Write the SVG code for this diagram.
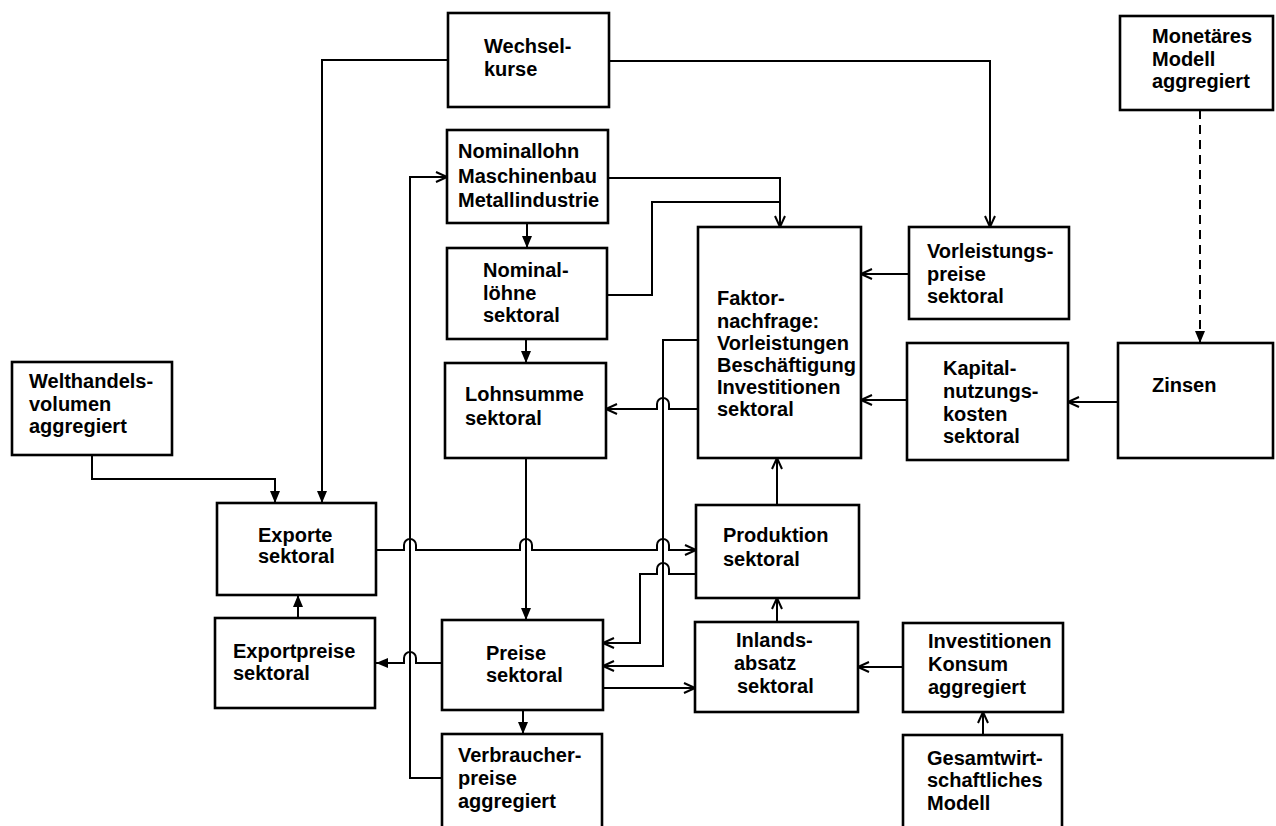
<svg xmlns="http://www.w3.org/2000/svg" width="1276" height="826" viewBox="0 0 1276 826">
<style>
.box{fill:#fff;stroke:#000;stroke-width:2.6}
.t{font-family:"Liberation Sans",Arial,sans-serif;font-size:20px;font-weight:bold;fill:#000}
.c{fill:none;stroke:#000;stroke-width:2}
.o{marker-end:url(#open)}
.f{marker-end:url(#fill)}
</style>
<defs>
<marker id="open" markerUnits="userSpaceOnUse" markerWidth="14" markerHeight="12" refX="12" refY="6" orient="auto">
<path d="M1,1 L12,6 L1,11" fill="none" stroke="#000" stroke-width="2"/>
</marker>
<marker id="fill" markerUnits="userSpaceOnUse" markerWidth="14" markerHeight="12" refX="12" refY="6" orient="auto">
<path d="M0,1 L12,6 L0,11 Z" fill="#000"/>
</marker>
</defs>
<rect width="1276" height="826" fill="#fff"/>
<g id="connectors">
<path class="c f" d="M448 60 H322 V503"/>
<path class="c o" d="M609 61 H990 V227"/>
<path class="c o" d="M608 178 H780 V227"/>
<path class="c" d="M607 295 H652 V202 H780"/>
<path class="c f" d="M527 223 V248"/>
<path class="c f" d="M526 339 V363"/>
<path class="c o" d="M909 274 H861"/>
<path class="c o" d="M907 400 H861"/>
<path class="c o" d="M1118 402 H1068"/>
<path class="c f" d="M1200 110 V343" stroke-dasharray="9,6"/>
<path class="c o" d="M698 409 H669 v-5 a6 6 0 0 0 -12 0 v5 H606"/>
<path class="c f" d="M526 458 V620"/>
<path class="c f" d="M523 710 V734"/>
<path class="c o" d="M442 778 H410 V177 H447"/>
<path class="c o" d="M376 550 H404 v-5 a6 6 0 0 1 12 0 v5 H520 v-5 a6 6 0 0 1 12 0 v5 H657 v-5 a6 6 0 0 1 12 0 v5 H696"/>
<path class="c o" d="M696 574 H669 v-5 a6 6 0 0 0 -12 0 v5 H640 V643 H603"/>
<path class="c o" d="M698 340 H663 V666 H603"/>
<path class="c o" d="M603 688 H695"/>
<path class="c f" d="M442 663 H416 v-5 a6 6 0 0 0 -12 0 v5 H376"/>
<path class="c f" d="M298 618 V595"/>
<path class="c f" d="M92 455 V479 H275 V503"/>
<path class="c o" d="M777 505 V458"/>
<path class="c o" d="M777 622 V598"/>
<path class="c o" d="M903 667 H858"/>
<path class="c o" d="M983 735 V712"/>
</g>
<g id="wechselkurse"><rect class="box" x="448" y="13" width="161" height="94"/>
<text class="t" x="484" y="53">Wechsel-</text><text class="t" x="484" y="76">kurse</text></g>
<g id="nominallohn"><rect class="box" x="447" y="130" width="161" height="93"/>
<text class="t" x="458" y="158">Nominallohn</text><text class="t" x="458" y="183">Maschinenbau</text><text class="t" x="458" y="207">Metallindustrie</text></g>
<g id="nominalloehne"><rect class="box" x="447" y="248" width="160" height="91"/>
<text class="t" x="483" y="277">Nominal-</text><text class="t" x="483" y="300">löhne</text><text class="t" x="483" y="322">sektoral</text></g>
<g id="lohnsumme"><rect class="box" x="445" y="363" width="161" height="95"/>
<text class="t" x="465" y="401">Lohnsumme</text><text class="t" x="465" y="425">sektoral</text></g>
<g id="preise"><rect class="box" x="442" y="620" width="161" height="90"/>
<text class="t" x="486" y="660">Preise</text><text class="t" x="486" y="682">sektoral</text></g>
<g id="verbraucherpreise"><rect class="box" x="442" y="734" width="160" height="110"/>
<text class="t" x="458" y="762">Verbraucher-</text><text class="t" x="458" y="785">preise</text><text class="t" x="458" y="808">aggregiert</text></g>
<g id="welthandel"><rect class="box" x="12" y="362" width="160" height="93"/>
<text class="t" x="29" y="388">Welthandels-</text><text class="t" x="29" y="411">volumen</text><text class="t" x="29" y="433">aggregiert</text></g>
<g id="exporte"><rect class="box" x="217" y="503" width="159" height="92"/>
<text class="t" x="258" y="542">Exporte</text><text class="t" x="258" y="563">sektoral</text></g>
<g id="exportpreise"><rect class="box" x="215" y="618" width="160" height="90"/>
<text class="t" x="233" y="658">Exportpreise</text><text class="t" x="233" y="680">sektoral</text></g>
<g id="faktornachfrage"><rect class="box" x="698" y="227" width="163" height="231"/>
<text class="t" x="717" y="305">Faktor-</text><text class="t" x="717" y="328">nachfrage:</text><text class="t" x="717" y="350">Vorleistungen</text><text class="t" x="717" y="372">Beschäftigung</text><text class="t" x="717" y="394">Investitionen</text><text class="t" x="717" y="416">sektoral</text></g>
<g id="produktion"><rect class="box" x="696" y="505" width="163" height="93"/>
<text class="t" x="723" y="542">Produktion</text><text class="t" x="723" y="566">sektoral</text></g>
<g id="inlandsabsatz"><rect class="box" x="695" y="622" width="163" height="90"/>
<text class="t" x="736" y="647">Inlands-</text><text class="t" x="734" y="670">absatz</text><text class="t" x="737" y="693">sektoral</text></g>
<g id="vorleistungspreise"><rect class="box" x="909" y="227" width="160" height="92"/>
<text class="t" x="927" y="258">Vorleistungs-</text><text class="t" x="927" y="281">preise</text><text class="t" x="927" y="303">sektoral</text></g>
<g id="kapitalnutzungskosten"><rect class="box" x="907" y="343" width="161" height="117"/>
<text class="t" x="943" y="375">Kapital-</text><text class="t" x="943" y="398">nutzungs-</text><text class="t" x="943" y="421">kosten</text><text class="t" x="943" y="443">sektoral</text></g>
<g id="zinsen"><rect class="box" x="1118" y="343" width="155" height="115"/>
<text class="t" x="1152" y="392">Zinsen</text></g>
<g id="monetaeres"><rect class="box" x="1120" y="16" width="153" height="94"/>
<text class="t" x="1152" y="43">Monetäres</text><text class="t" x="1152" y="66">Modell</text><text class="t" x="1152" y="88">aggregiert</text></g>
<g id="investitionen"><rect class="box" x="903" y="623" width="160" height="89"/>
<text class="t" x="928" y="648">Investitionen</text><text class="t" x="928" y="671">Konsum</text><text class="t" x="928" y="694">aggregiert</text></g>
<g id="gesamtwirtschaftlich"><rect class="box" x="903" y="735" width="159" height="110"/>
<text class="t" x="927" y="765">Gesamtwirt-</text><text class="t" x="927" y="787">schaftliches</text><text class="t" x="927" y="810">Modell</text></g>
</svg>
